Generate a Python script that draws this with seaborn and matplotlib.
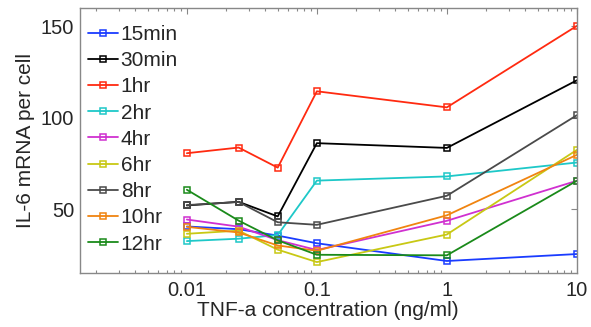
import matplotlib
matplotlib.use("Agg")
import matplotlib.pyplot as plt
import seaborn as sns
import pandas as pd
import numpy as np
from matplotlib.ticker import LogLocator, NullFormatter, FixedLocator

conc = [0.01, 0.025, 0.05, 0.1, 1, 10]
labels = ["15min", "30min", "1hr", "2hr", "4hr", "6hr", "8hr", "10hr", "12hr"]
v_15min = [40.5, 39.0, 35.5, 31.3, 21.6, 25.4]
v_30min = [52.0, 54.0, 46.0, 86.1, 83.5, 120.5]
v_1hr = [80.6, 83.7, 72.7, 114.5, 105.7, 150.3]
v_2hr = [32.5, 33.8, 35.8, 65.6, 67.9, 75.5]
v_4hr = [44.3, 40.4, 33.0, 27.6, 43.6, 65.5]
v_6hr = [36.5, 38.2, 27.8, 21.0, 36.1, 82.4]
v_8hr = [52.2, 53.9, 42.8, 41.4, 57.3, 101.4]
v_10hr = [40.3, 37.2, 30.1, 27.2, 46.6, 79.7]
v_12hr = [60.6, 43.7, 32.9, 25.0, 24.7, 65.5]
series = [v_15min, v_30min, v_1hr, v_2hr, v_4hr, v_6hr, v_8hr, v_10hr, v_12hr]
colors = ["#1a3cff", "#000000", "#ff2a10", "#1ec8c8", "#d030d0",
          "#c8c814", "#4a4a4a", "#f08410", "#1a8a1a"]

rows = []
for lab, vals in zip(labels, series):
    for c, v in zip(conc, vals):
        rows.append({"conc": c, "val": v, "time": lab})
df = pd.DataFrame(rows)

sns.set_style("white")
plt.rcParams["font.family"] = ["Liberation Sans", "DejaVu Sans"]

fig = plt.figure(figsize=(5.91, 3.27), dpi=100)
ax = fig.add_axes([0.135, 0.165, 0.841, 0.81])

sns.lineplot(data=df, x="conc", y="val", hue="time", hue_order=labels,
             palette=colors, marker="s", markersize=5, linewidth=1.3,
             legend=False, ax=ax, errorbar=None)
lines = ax.get_lines()
for ln in lines:
    c = ln.get_color()
    ln.set_markeredgecolor(c)
    ln.set_markerfacecolor("none")
    ln.set_markeredgewidth(1.1)

ax.set_xscale("log")
ax.set_xlim(0.0015, 10)
ax.set_ylim(15, 160)
ax.xaxis.set_major_locator(FixedLocator([0.01, 0.1, 1, 10]))
ax.set_xticklabels(["0.01", "0.1", "1", "10"])
ax.xaxis.set_minor_locator(LogLocator(base=10, subs=np.arange(2, 10), numticks=20))
ax.xaxis.set_minor_formatter(NullFormatter())
ax.set_yticks([50, 100, 150])

ax.tick_params(axis="both", which="major", direction="in", length=4, width=0.8,
               color="#888888", top=True, right=True, labelsize=14.5)
ax.tick_params(axis="x", which="major", pad=6)
ax.tick_params(axis="y", which="major", pad=4)
ax.tick_params(axis="x", which="minor", direction="in", length=2.5, width=0.8,
               color="#888888", top=True, bottom=True)
for s in ax.spines.values():
    s.set_color("#888888")
    s.set_linewidth(1.0)

ax.set_xlabel("TNF-a concentration (ng/ml)", fontsize=15, labelpad=0.5)
ax.set_ylabel("IL-6 mRNA per cell", fontsize=15, labelpad=4)

ax.legend(handles=lines, labels=labels, loc="upper left", frameon=False,
          fontsize=15, handlelength=1.45, handletextpad=0.12, labelspacing=0.345,
          borderaxespad=0.0, borderpad=0.3, bbox_to_anchor=(0.004, 0.96))

fig.savefig("out.png", dpi=100)
